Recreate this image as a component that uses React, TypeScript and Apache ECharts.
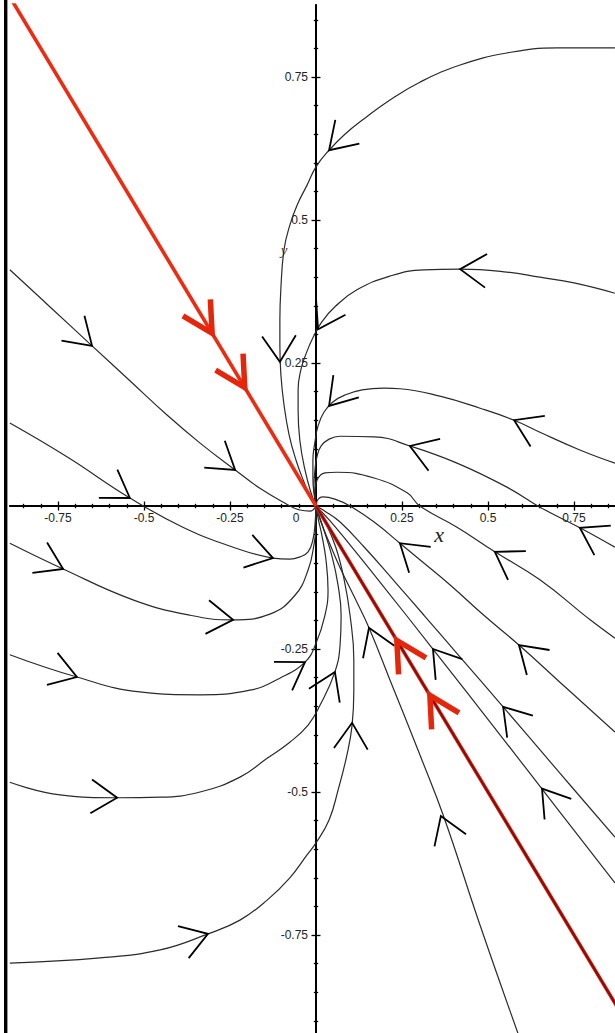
import React, { useEffect, useRef } from 'react';
import * as echarts from 'echarts';

// ---- axis ranges (data units) ----
const X_MIN = -0.8895;
const X_MAX = 0.8692;
const Y_MIN = -0.9213;
const Y_MAX = 0.8759;

// ---- ticks & labels ----
const xMajorTicks = [-0.75, -0.5, -0.25, 0, 0.25, 0.5, 0.75];
const xTickLabels = ['-0.75', '-0.5', '-0.25', '0', '0.25', '0.5', '0.75'];
const xMinorTicks = [-0.85, -0.8, -0.7, -0.65, -0.6, -0.55, -0.45, -0.4, -0.35, -0.3, -0.2, -0.15, -0.1, -0.05,
  0.05, 0.1, 0.15, 0.2, 0.3, 0.35, 0.4, 0.45, 0.55, 0.6, 0.65, 0.7, 0.8, 0.85];
const yMajorTicks = [-0.75, -0.5, -0.25, 0.25, 0.5, 0.75];
const yTickLabels = ['-0.75', '-0.5', '-0.25', '0.25', '0.5', '0.75'];
const yMinorTicks = [-0.9, -0.85, -0.8, -0.7, -0.65, -0.6, -0.55, -0.45, -0.4, -0.35, -0.3, -0.2, -0.15, -0.1, -0.05,
  0.05, 0.1, 0.15, 0.2, 0.3, 0.35, 0.4, 0.45, 0.55, 0.6, 0.65, 0.7, 0.8, 0.85];

// ---- trajectories (ordered in the direction of flow) ----
const u1 = [[0.869, 0.801], [0.701, 0.801], [0.555, 0.792], [0.419, 0.771], [0.302, 0.741], [0.215, 0.71], [0.142, 0.678],
  [0.084, 0.65], [0.038, 0.622], [0, 0.593], [-0.026, 0.561], [-0.055, 0.526], [-0.076, 0.491], [-0.093, 0.448],
  [-0.102, 0.381], [-0.105, 0.325], [-0.105, 0.281], [-0.102, 0.229], [-0.093, 0.177], [-0.078, 0.124], [-0.058, 0.08],
  [-0.035, 0.042], [-0.015, 0.014], [0, 0]];
const u2 = [[0.869, 0.372], [0.75, 0.39], [0.651, 0.4], [0.555, 0.409], [0.419, 0.414], [0.314, 0.413], [0.215, 0.402],
  [0.119, 0.378], [0.058, 0.35], [0.017, 0.322], [-0.009, 0.294], [-0.029, 0.266], [-0.044, 0.238], [-0.052, 0.203],
  [-0.052, 0.168], [-0.047, 0.115], [-0.032, 0.063], [-0.015, 0.024], [0, 0]];
const u3 = [[0.869, 0.075], [0.767, 0.098], [0.651, 0.129], [0.576, 0.15], [0.477, 0.171], [0.36, 0.192], [0.244, 0.205],
  [0.198, 0.206], [0.134, 0.203], [0.084, 0.194], [0.049, 0.182], [0.023, 0.164], [0.006, 0.14], [-0.003, 0.112],
  [-0.009, 0.08], [-0.009, 0.049], [-0.006, 0.023], [0, 0]];
const u4 = [[0.869, -0.072], [0.767, -0.038], [0.651, -0.002], [0.555, 0.033], [0.41, 0.075], [0.273, 0.105], [0.169, 0.121],
  [0.07, 0.122], [0.038, 0.117], [0.015, 0.105], [0.003, 0.087], [-0.003, 0.063], [-0.006, 0.035], [-0.003, 0.014], [0, 0]];
const u5 = [[0.869, -0.231], [0.797, -0.199], [0.651, -0.129], [0.52, -0.08], [0.41, -0.037], [0.302, 0], [0.265, 0.023],
  [0.169, 0.049], [0.061, 0.059], [0.026, 0.058], [0.003, 0.045], [-0.003, 0.024], [0, 0]];
const u6 = [[0.869, -0.395], [0.709, -0.308], [0.59, -0.243], [0.488, -0.191], [0.39, -0.138], [0.302, -0.094], [0.244, -0.065],
  [0.169, -0.028], [0.099, 0], [0.055, 0.012], [0.02, 0.016], [0.003, 0.009], [0, 0]];
const la = [[0.869, -0.659], [0.709, -0.535], [0.535, -0.4], [0.34, -0.25], [0.186, -0.133], [0.099, -0.068],
  [0.041, -0.026], [0, 0]];
const lb = [[0.869, -0.579], [0.709, -0.467], [0.544, -0.351], [0.419, -0.264], [0.314, -0.191], [0.23, -0.133],
  [0.142, -0.073], [0.07, -0.028], [0.026, -0.009], [0, 0]];
const lc = [[0.592, -0.93], [0.477, -0.733], [0.372, -0.544], [0.302, -0.435], [0.215, -0.304], [0.154, -0.213],
  [0.113, -0.161], [0.07, -0.108], [0.035, -0.059], [0.012, -0.024], [0, 0]];
const lu1 = [[-0.89, 0.413], [-0.773, 0.348], [-0.651, 0.28], [-0.541, 0.219], [-0.433, 0.159], [-0.337, 0.11],
  [-0.235, 0.063], [-0.163, 0.031], [-0.09, 0.005], [-0.047, -0.007], [-0.017, -0.009], [0, 0]];
const lu2 = [[-0.89, 0.145], [-0.724, 0.086], [-0.541, 0.014], [-0.387, -0.037], [-0.241, -0.072],
  [-0.125, -0.091], [-0.076, -0.093], [-0.047, -0.089], [-0.023, -0.08], [-0.009, -0.059], [-0.003, -0.033], [0, 0]];
const ll2 = [[-0.89, -0.065], [-0.735, -0.11], [-0.532, -0.164], [-0.366, -0.191], [-0.241, -0.199], [-0.134, -0.189],
  [-0.061, -0.156], [-0.023, -0.112], [-0.006, -0.068], [0, -0.033], [0, 0]];
const ll3 = [[-0.89, -0.26], [-0.695, -0.299], [-0.512, -0.325], [-0.337, -0.33], [-0.192, -0.322], [-0.105, -0.301],
  [-0.032, -0.273], [0, -0.24], [0.026, -0.191], [0.035, -0.147], [0.029, -0.094], [0.017, -0.051], [0.006, -0.021], [0, 0]];
const ll4 = [[-0.89, -0.483], [-0.744, -0.505], [-0.578, -0.51], [-0.453, -0.509], [-0.337, -0.5], [-0.221, -0.474],
  [-0.142, -0.441], [-0.076, -0.413], [-0.023, -0.383], [0.012, -0.348], [0.055, -0.29], [0.07, -0.243], [0.073, -0.191],
  [0.064, -0.138], [0.047, -0.089], [0.023, -0.042], [0, 0]];
const ll5 = [[-0.89, -0.799], [-0.628, -0.79], [-0.453, -0.776], [-0.314, -0.748], [-0.221, -0.724], [-0.142, -0.689],
  [-0.076, -0.65], [-0.026, -0.61], [0, -0.589], [0.038, -0.549], [0.064, -0.497], [0.09, -0.435], [0.105, -0.383],
  [0.11, -0.322], [0.11, -0.269], [0.099, -0.191], [0.081, -0.126], [0.058, -0.073], [0.029, -0.031], [0, 0]];

// straight-line solution along the eigenvector (1,-1)
const eigenUpper = [[-0.9, 0.9], [0, 0]];
const eigenLower = [[0.9, -0.9], [0, 0]];

// ---- arrowhead tips on each trajectory ----
const u1Arrows = [[0.038, 0.622], [-0.105, 0.252]];
const u2Arrows = [[0.419, 0.414], [0.006, 0.309]];
const u3Arrows = [[0.576, 0.15], [0.038, 0.175]];
const u4Arrows = [[0.273, 0.105], [0.767, -0.038]];
const u5Arrows = [[0.52, -0.08]];
const u6Arrows = [[0.244, -0.065], [0.59, -0.243]];
const laArrows = [[0.34, -0.25], [0.657, -0.494]];
const lbArrows = [[0.544, -0.351]];
const lcArrows = [[0.154, -0.213], [0.363, -0.542]];
const lu1Arrows = [[-0.651, 0.28], [-0.235, 0.063]];
const lu2Arrows = [[-0.541, 0.014], [-0.125, -0.091]];
const ll2Arrows = [[-0.735, -0.11], [-0.241, -0.199]];
const ll3Arrows = [[-0.695, -0.299], [-0.032, -0.273]];
const ll4Arrows = [[-0.578, -0.51], [0.055, -0.29]];
const ll5Arrows = [[-0.314, -0.748], [0.105, -0.379]];
const eigenUpperArrows = [[-0.302, 0.302], [-0.207, 0.207]];
const eigenLowerArrows = [[0.235, -0.235], [0.331, -0.331]];

const blackCurves = [u1, u2, u3, u4, u5, u6, la, lb, lc, lu1, lu2, ll2, ll3, ll4, ll5];
const blackArrowSets = [u1Arrows, u2Arrows, u3Arrows, u4Arrows, u5Arrows, u6Arrows, laArrows, lbArrows, lcArrows,
  lu1Arrows, lu2Arrows, ll2Arrows, ll3Arrows, ll4Arrows, ll5Arrows];
const redCurves = [eigenUpper, eigenLower];
const redArrowSets = [eigenUpperArrows, eigenLowerArrows];

function buildArrowData(sets: number[][][]) {
  const out: number[][] = [];
  sets.forEach((set, i) => set.forEach((p) => out.push([p[0], p[1], i])));
  return out;
}

function segDist(p: number[], a: number[], b: number[]) {
  const dx = b[0] - a[0];
  const dy = b[1] - a[1];
  const l2 = dx * dx + dy * dy || 1;
  let t = ((p[0] - a[0]) * dx + (p[1] - a[1]) * dy) / l2;
  t = Math.max(0, Math.min(1, t));
  const qx = a[0] + t * dx - p[0];
  const qy = a[1] + t * dy - p[1];
  return Math.sqrt(qx * qx + qy * qy);
}

function makeArrowRenderer(paths: number[][][], len: number, half: number, color: string, width: number) {
  return (_params: any, api: any) => {
    const tip = api.coord([api.value(0), api.value(1)]);
    const pts = paths[api.value(2)].map((p) => api.coord(p));
    let best = 0;
    let bd = Infinity;
    for (let i = 0; i < pts.length - 1; i++) {
      const d = segDist(tip, pts[i], pts[i + 1]);
      if (d < bd) {
        bd = d;
        best = i;
      }
    }
    const a = pts[best];
    const b = pts[best + 1];
    const ang = Math.atan2(a[1] - b[1], a[0] - b[0]);
    const p1 = [tip[0] + len * Math.cos(ang + half), tip[1] + len * Math.sin(ang + half)];
    const p2 = [tip[0] + len * Math.cos(ang - half), tip[1] + len * Math.sin(ang - half)];
    return {
      type: 'polyline',
      shape: { points: [p1, tip, p2] },
      style: { stroke: color, lineWidth: width, fill: null },
    };
  };
}

const LABEL_FONT = '"Liberation Sans", Arial, Helvetica, sans-serif';
const AXIS_COLOR = '#000';

function xTickAxis(position: string, ticks: number[], len: number) {
  return {
    type: 'value',
    gridIndex: 0,
    min: X_MIN,
    max: X_MAX,
    position,
    splitLine: { show: false },
    axisLine: { show: true, onZero: true, onZeroAxisIndex: 0, lineStyle: { color: AXIS_COLOR, width: 1.5 } },
    axisTick: { show: true, customValues: ticks, length: len, lineStyle: { color: AXIS_COLOR, width: 1.3 } },
    axisLabel: { show: false },
  };
}

function yTickAxis(position: string, ticks: number[], len: number) {
  return {
    type: 'value',
    gridIndex: 0,
    min: Y_MIN,
    max: Y_MAX,
    position,
    splitLine: { show: false },
    axisLine: { show: true, onZero: true, onZeroAxisIndex: 0, lineStyle: { color: AXIS_COLOR, width: 1.5 } },
    axisTick: { show: true, customValues: ticks, length: len, lineStyle: { color: AXIS_COLOR, width: 1.3 } },
    axisLabel: { show: false },
  };
}

export default function App() {
  const ref = useRef<HTMLDivElement>(null);

  useEffect(() => {
    if (!ref.current) return;
    const chart = echarts.init(ref.current, null, { renderer: 'svg' });

    const curveSeries = blackCurves.map((c) => ({
      type: 'line',
      data: c,
      smooth: 0.45,
      symbol: 'none',
      showSymbol: false,
      silent: true,
      z: 3,
      lineStyle: { color: '#2a2a2a', width: 1.2 },
    }));

    const option: any = {
      animation: false,
      backgroundColor: '#fff',
      grid: [
        { left: 10, top: 5, right: 0, bottom: 0, containLabel: false, outerBoundsMode: 'none' },
        // label carrier for the x axis: its bottom edge lies on y = 0
        { left: 10, top: 5, right: 0, height: 501, containLabel: false, outerBoundsMode: 'none' },
        // label carrier for the y axis: its left edge lies on x = 0
        { left: 316, top: 5, right: 0, bottom: 0, containLabel: false, outerBoundsMode: 'none' },
      ],
      xAxis: [
        xTickAxis('bottom', xMajorTicks, 4.5),
        xTickAxis('top', xMajorTicks, 4.5),
        xTickAxis('bottom', xMinorTicks, 2.2),
        xTickAxis('top', xMinorTicks, 2.2),
        {
          type: 'value',
          gridIndex: 1,
          min: X_MIN,
          max: X_MAX,
          position: 'bottom',
          splitLine: { show: false },
          axisLine: { show: false, onZero: false },
          axisTick: { show: false },
          axisLabel: {
            show: true,
            customValues: xMajorTicks,
            margin: 6,
            fontSize: 12,
            fontFamily: LABEL_FONT,
            color: '#222',
            formatter: (v: number) => {
              const i = xMajorTicks.indexOf(v);
              const t = i >= 0 ? xTickLabels[i] : String(v);
              return v === 0 ? '{z|' + t + '}' : t;
            },
            rich: { z: { padding: [0, 40, 0, 0], fontSize: 12, fontFamily: LABEL_FONT, color: '#222' } },
          },
        },
        { type: 'value', gridIndex: 2, min: 0, max: 1, show: false },
      ],
      yAxis: [
        yTickAxis('left', yMajorTicks, 4.5),
        yTickAxis('right', yMajorTicks, 4.5),
        yTickAxis('left', yMinorTicks, 2.2),
        yTickAxis('right', yMinorTicks, 2.2),
        { type: 'value', gridIndex: 1, min: 0, max: 1, show: false },
        {
          type: 'value',
          gridIndex: 2,
          min: Y_MIN,
          max: Y_MAX,
          position: 'left',
          splitLine: { show: false },
          axisLine: { show: false, onZero: false },
          axisTick: { show: false },
          axisLabel: {
            show: true,
            customValues: yMajorTicks,
            margin: 8,
            fontSize: 12,
            fontFamily: LABEL_FONT,
            color: '#222',
            padding: [5, 0, 0, 0],
            formatter: (v: number) => {
              const i = yMajorTicks.indexOf(v);
              return i >= 0 ? yTickLabels[i] : String(v);
            },
          },
        },
      ],
      series: [
        ...curveSeries,
        {
          type: 'line',
          data: eigenUpper,
          symbol: 'none',
          silent: true,
          z: 4,
          lineStyle: { color: '#ee2b10', width: 3.6 },
        },
        {
          type: 'line',
          data: eigenLower,
          symbol: 'none',
          silent: true,
          z: 4,
          lineStyle: { color: '#d62a14', width: 3.6 },
        },
        {
          type: 'line',
          data: eigenLower,
          symbol: 'none',
          silent: true,
          z: 4,
          lineStyle: { color: '#8c0a0a', width: 2 },
        },
        {
          type: 'custom',
          coordinateSystem: 'cartesian2d',
          xAxisIndex: 0,
          yAxisIndex: 0,
          silent: true,
          z: 6,
          data: buildArrowData(blackArrowSets),
          encode: { x: 0, y: 1 },
          renderItem: makeArrowRenderer(blackCurves, 31, 0.576, '#000', 1.8),
        },
        {
          type: 'custom',
          coordinateSystem: 'cartesian2d',
          xAxisIndex: 0,
          yAxisIndex: 0,
          silent: true,
          z: 7,
          data: buildArrowData(redArrowSets),
          encode: { x: 0, y: 1 },
          renderItem: makeArrowRenderer(redCurves, 34, 0.49, '#e5260b', 5.5),
        },
      ],
      graphic: [
        { type: 'rect', silent: true, shape: { x: 4, y: 0, width: 3.4, height: 1033 }, style: { fill: '#000' } },
        {
          type: 'text',
          silent: true,
          x: 439,
          y: 534,
          style: {
            text: 'x',
            font: 'italic 22px "Liberation Serif", "Times New Roman", serif',
            fill: '#222',
            align: 'center',
            verticalAlign: 'middle',
            textAlign: 'center',
            textVerticalAlign: 'middle',
          },
        },
        {
          type: 'text',
          silent: true,
          x: 284,
          y: 250,
          style: {
            text: 'y',
            font: 'italic 15px "Liberation Serif", "Times New Roman", serif',
            fill: '#444',
            align: 'center',
            verticalAlign: 'middle',
            textAlign: 'center',
            textVerticalAlign: 'middle',
          },
        },
      ],
    };

    chart.setOption(option);
    return () => chart.dispose();
  }, []);

  return (
    <div
      ref={ref}
      style={{ position: 'absolute', left: 0, top: 0, width: 615, height: 1033, background: '#fff' }}
    />
  );
}
